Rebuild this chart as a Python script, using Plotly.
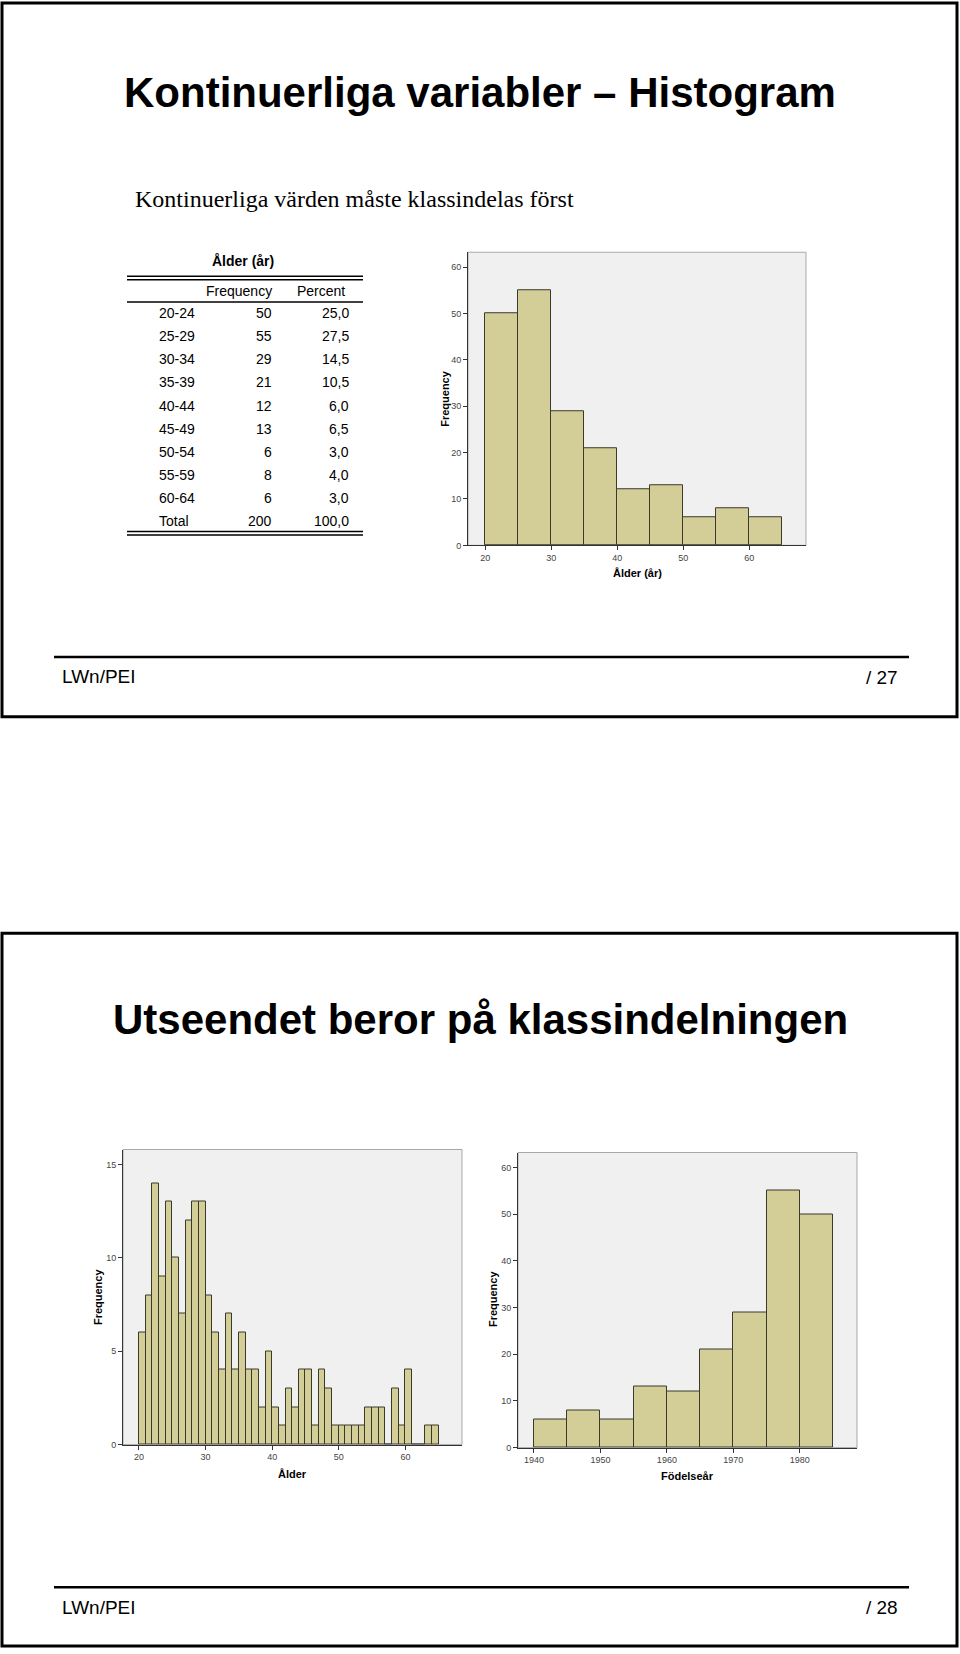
import plotly.graph_objects as go

W, H = 960, 1654

# ---------------- data ----------------
age_classes = ["20-24", "25-29", "30-34", "35-39", "40-44", "45-49", "50-54", "55-59", "60-64"]
age_freq = [50, 55, 29, 21, 12, 13, 6, 8, 6]
age_pct = ["25,0", "27,5", "14,5", "10,5", "6,0", "6,5", "3,0", "4,0", "3,0"]
total_freq = "200"
total_pct = "100,0"
age_bin_start = [20, 25, 30, 35, 40, 45, 50, 55, 60]
age_bin_width = 5

fine_age_start = list(range(20, 65))
fine_age_freq = [6, 8, 14, 9, 13, 10, 7, 12, 13, 13,
                 8, 6, 4, 7, 4, 6, 4, 4, 2, 5,
                 2, 1, 3, 2, 4, 4, 1, 4, 3, 1,
                 1, 1, 1, 1, 2, 2, 2, 0, 3, 1,
                 4, 0, 0, 1, 1]

birth_start = [1940, 1945, 1950, 1955, 1960, 1965, 1970, 1975, 1980]
birth_freq = [6, 8, 6, 13, 12, 21, 29, 55, 50]
birth_width = 5

age_ticks = [20, 30, 40, 50, 60]
freq_ticks_60 = [0, 10, 20, 30, 40, 50, 60]
freq_ticks_15 = [0, 5, 10, 15]
birth_ticks = [1940, 1950, 1960, 1970, 1980]

# ---------------- helpers ----------------
def px(x):
    return x / W

def py(y):
    return 1 - y / H

BAR = "#d3ce97"
EDGE = "#3a3a2a"
PLOTBG = "#f0f0f0"
SANS = "Liberation Sans, Arial, sans-serif"
SERIF = "Liberation Serif, Times New Roman, serif"

fig = go.Figure()

fig.add_trace(go.Bar(
    x=[s + age_bin_width / 2 for s in age_bin_start], y=age_freq, width=age_bin_width,
    marker=dict(color=BAR, line=dict(color=EDGE, width=1)), xaxis="x", yaxis="y",
    showlegend=False, hoverinfo="x+y"))

fig.add_trace(go.Bar(
    x=[s + 0.5 for s in fine_age_start], y=fine_age_freq, width=1,
    marker=dict(color=BAR, line=dict(color=EDGE, width=1)), xaxis="x2", yaxis="y2",
    showlegend=False, hoverinfo="x+y"))

fig.add_trace(go.Bar(
    x=[s + birth_width / 2 for s in birth_start], y=birth_freq, width=birth_width,
    marker=dict(color=BAR, line=dict(color=EDGE, width=1)), xaxis="x3", yaxis="y3",
    showlegend=False, hoverinfo="x+y"))

tickfont = dict(family=SANS, size=9, color="#444")

def xaxis(dom, rng, ticks, anchor):
    return dict(domain=[px(dom[0]), px(dom[1])], range=rng, tickvals=ticks,
                showgrid=False, zeroline=False, showline=True, linecolor="#333", linewidth=1,
                ticks="outside", ticklen=4, tickcolor="#333", tickfont=tickfont,
                anchor=anchor, fixedrange=True)

def yaxis(dom, rng, ticks, anchor):
    return dict(domain=[py(dom[1]), py(dom[0])], range=rng, tickvals=ticks,
                showgrid=False, zeroline=False, showline=True, linecolor="#333", linewidth=1,
                ticks="outside", ticklen=4, tickcolor="#333", tickfont=tickfont,
                anchor=anchor, fixedrange=True)

shapes = []
annotations = []

# plot backgrounds with light frame
for (x0, x1, y0, y1) in [(468, 806, 253, 547), (123, 462, 1153, 1449), (518, 857, 1156, 1452)]:
    shapes.append(dict(type="rect", xref="paper", yref="paper", x0=px(x0), x1=px(x1),
                       y0=py(y1), y1=py(y0), fillcolor=PLOTBG,
                       line=dict(color="#a8a8a8", width=1), layer="below"))

# slide borders
for (y0, y1) in [(3, 719), (936, 1651)]:
    shapes.append(dict(type="rect", xref="paper", yref="paper", x0=px(2), x1=px(957),
                       y0=py(y1), y1=py(y0), line=dict(color="black", width=3)))

# footer lines
for y in [659, 1592]:
    shapes.append(dict(type="line", xref="paper", yref="paper", x0=px(54), x1=px(909),
                       y0=py(y), y1=py(y), line=dict(color="black", width=2.5)))

def text(x, y, s, size, family=SANS, xanchor="center", bold=False, color="black", angle=0):
    annotations.append(dict(x=px(x), y=py(y), xref="paper", yref="paper", text=(f"<b>{s}</b>" if bold else s),
                            showarrow=False, xanchor=xanchor, yanchor="middle", textangle=angle,
                            font=dict(family=family, size=size, color=color)))

# titles
text(480, 93, "Kontinuerliga variabler – Histogram", 42, bold=True)
text(354, 200, "Kontinuerliga värden måste klassindelas först", 24, family=SERIF)
text(480, 1023, "Utseendet beror på klassindelningen", 42, bold=True)

# footers
text(60, 679, "LWn/PEI", 19, xanchor="left")
text(900, 680, "/ 27", 19, xanchor="right")
text(60, 1612, "LWn/PEI", 19, xanchor="left")
text(900, 1612, "/ 28", 19, xanchor="right")

# table
text(243, 262, "Ålder (år)", 14, bold=True)
for yy in [277, 280.5, 533, 536.5]:
    shapes.append(dict(type="line", xref="paper", yref="paper", x0=px(127), x1=px(363),
                       y0=py(yy), y1=py(yy), line=dict(color="black", width=1.5)))
shapes.append(dict(type="line", xref="paper", yref="paper", x0=px(127), x1=px(363),
                   y0=py(303), y1=py(303), line=dict(color="black", width=1.5)))
text(274, 292, "Frequency", 14, xanchor="right")
text(347, 292, "Percent", 14, xanchor="right")
rows = list(zip(age_classes, [str(f) for f in age_freq], age_pct)) + [("Total", total_freq, total_pct)]
for i, (c, f, p) in enumerate(rows):
    yy = 314 + i * 23.2
    text(157, yy, c, 14, xanchor="left")
    text(274, yy, f, 14, xanchor="right")
    text(351, yy, p, 14, xanchor="right")

# axis titles
text(445, 400, "Frequency", 11, bold=True, angle=-90)
text(637, 575, "Ålder (år)", 11, bold=True)
text(98, 1301, "Frequency", 11, bold=True, angle=-90)
text(292, 1478, "Ålder", 11, bold=True)
text(493, 1303, "Frequency", 11, bold=True, angle=-90)
text(687, 1480, "Födelseår", 11, bold=True)

fig.update_layout(
    width=W, height=H, margin=dict(l=0, r=0, t=0, b=0, pad=0),
    paper_bgcolor="white", plot_bgcolor="rgba(0,0,0,0)",
    bargap=0, showlegend=False,
    xaxis=xaxis((468, 806), [17.4, 68.6], age_ticks, "y"),
    yaxis=yaxis((253, 547), [0, 63.2], freq_ticks_60, "x"),
    xaxis2=xaxis((123, 462), [17.6, 68.5], age_ticks, "y2"),
    yaxis2=yaxis((1153, 1449), [0, 15.8], freq_ticks_15, "x2"),
    xaxis3=xaxis((518, 857), [1937.6, 1988.6], birth_ticks, "y3"),
    yaxis3=yaxis((1156, 1452), [0, 63.2], freq_ticks_60, "x3"),
    shapes=shapes, annotations=annotations,
)

fig.write_html("out.html")
